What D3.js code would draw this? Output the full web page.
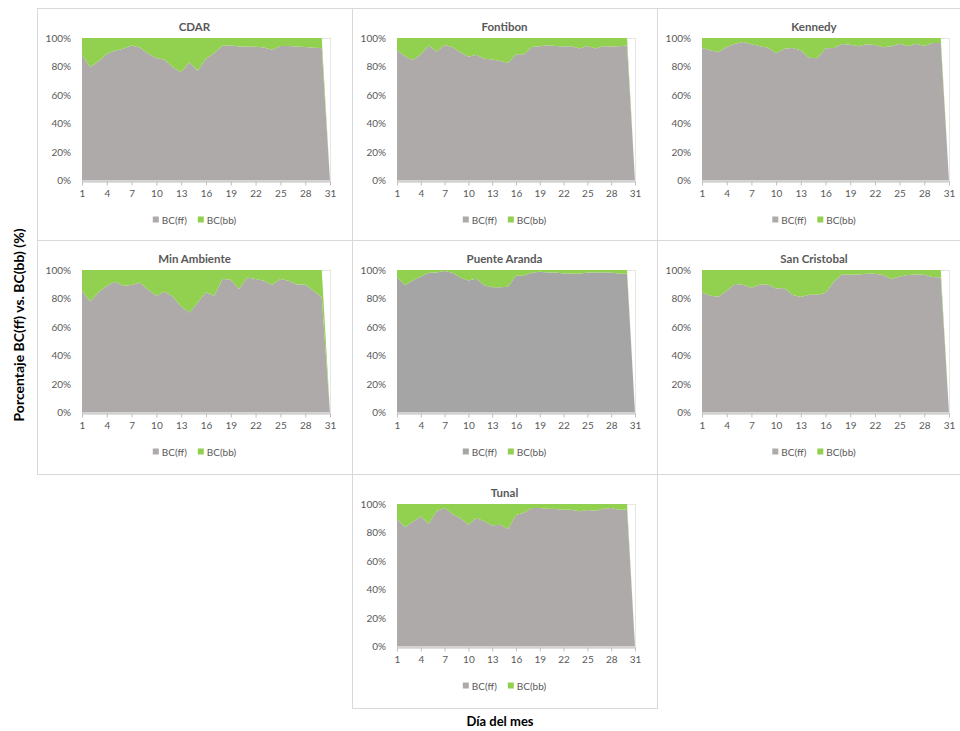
<!DOCTYPE html>
<html>
<head>
<meta charset="utf-8">
<script src="https://cdn.jsdelivr.net/npm/d3@7"></script>
<style>
  html, body { margin: 0; padding: 0; background: #fff; }
  svg { display: block; font-family: Lato, "Open Sans", sans-serif; }
</style>
</head>
<body>
<svg id="chart" width="960" height="731"></svg>
<script>
// Day of month (categories)
const days = [1,2,3,4,5,6,7,8,9,10,11,12,13,14,15,16,17,18,19,20,21,22,23,24,25,26,27,28,29,30,31];
const xTickValues = [1,4,7,10,13,16,19,22,25,28,31];
const yTickValues = [0, 0.2, 0.4, 0.6, 0.8, 1];
const seriesNames = ["BC(ff)", "BC(bb)"];
const stationNames = ["CDAR", "Fontibon", "Kennedy", "Min Ambiente", "Puente Aranda", "San Cristobal", "Tunal"];

// Daily share (%) of BC from fossil fuel (ff) and biomass burning (bb)
const ffCDAR = [88,79.4,83.6,89,91,92.5,94.8,93.4,89,86,84.8,79.4,75.9,82.9,77,85.5,89.5,94.6,94.8,94.1,94.1,93.9,93.4,91.8,94.4,94.4,94.1,93.7,93.2,93,0];
const bbCDAR = [12,20.6,16.4,11,9,7.5,5.2,6.6,11,14,15.2,20.6,24.1,17.1,23,14.5,10.5,5.4,5.2,5.9,5.9,6.1,6.6,8.2,5.6,5.6,5.9,6.3,6.8,7,0];

const ffFontibon = [91.4,87.2,84.5,88.4,94.7,90.3,95.1,93.5,90,86.8,88.2,85.4,84.9,83.8,82.4,88.6,88.6,93.7,94.2,94.9,94.4,94,94.2,92.6,94.4,92.6,94.2,94,94.2,94.7,0];
const bbFontibon = [8.6,12.8,15.5,11.6,5.3,9.7,4.9,6.5,10,13.2,11.8,14.6,15.1,16.2,17.6,11.4,11.4,6.3,5.8,5.1,5.6,6,5.8,7.4,5.6,7.4,5.8,6,5.8,5.3,0];

const ffKennedy = [93,91.4,90.2,93.7,96,97.2,95.6,94.4,93.2,89.3,92.5,93,91.4,86.2,85.8,92.8,93,95.8,95.3,94.2,95.6,95.1,93.5,94.2,96,94.2,96,94.4,96.5,96.5,0];
const bbKennedy = [7,8.6,9.8,6.3,4,2.8,4.4,5.6,6.8,10.7,7.5,7,8.6,13.8,14.2,7.2,7,4.2,4.7,5.8,4.4,4.9,6.5,5.8,4,5.8,4,5.6,3.5,3.5,0];

const ffMinAmbiente = [85.4,77.9,84.3,89,91.8,89,89.4,91.3,86.2,81.9,85,81.2,74.4,70.2,77.2,84.3,81.9,93.7,93.2,86.6,94.8,93.7,92.5,89.4,93.7,92.5,89.9,89.9,85.4,80.8,0];
const bbMinAmbiente = [14.6,22.1,15.7,11,8.2,11,10.6,8.7,13.8,18.1,15,18.8,25.6,29.8,22.8,15.7,18.1,6.3,6.8,13.4,5.2,6.3,7.5,10.6,6.3,7.5,10.1,10.1,14.6,19.2,0];

const ffPuenteAranda = [95,89.3,92.7,95.5,98.1,98.3,99.3,98.1,94.5,92.7,93.8,89.3,87.9,87.9,88.2,96,96.2,98.1,98.8,98.3,98.3,97.6,97.6,97.4,98.3,98.3,98.3,98.3,97.4,97.4,0];
const bbPuenteAranda = [5,10.7,7.3,4.5,1.9,1.7,0.7,1.9,5.5,7.3,6.2,10.7,12.1,12.1,11.8,4,3.8,1.9,1.2,1.7,1.7,2.4,2.4,2.6,1.7,1.7,1.7,1.7,2.6,2.6,0];

const ffSanCristobal = [84.3,81.9,81.2,85.4,90.1,89.7,87.6,89.7,89.9,87.1,87.3,82.4,81,82.6,82.6,83.8,91.8,96.9,96.7,96.9,97.4,97.4,96.5,93.7,95.5,96.5,96.9,96.7,95.1,94.8,0];
const bbSanCristobal = [15.7,18.1,18.8,14.6,9.9,10.3,12.4,10.3,10.1,12.9,12.7,17.6,19,17.4,17.4,16.2,8.2,3.1,3.3,3.1,2.6,2.6,3.5,6.3,4.5,3.5,3.1,3.3,4.9,5.2,0];

const ffTunal = [89.5,83.6,87.6,91.4,86,95.1,97.2,93,90,85.5,90.2,87.9,85,85.5,82.5,92.3,93.9,97.2,97.2,96.7,96.5,96,96,94.9,95.8,95.3,96.7,97.2,96,96,0];
const bbTunal = [10.5,16.4,12.4,8.6,14,4.9,2.8,7,10,14.5,9.8,12.1,15,14.5,17.5,7.7,6.1,2.8,2.8,3.3,3.5,4,4,5.1,4.2,4.7,3.3,2.8,4,4,0];

const ffByStation = [ffCDAR, ffFontibon, ffKennedy, ffMinAmbiente, ffPuenteAranda, ffSanCristobal, ffTunal];
const bbByStation = [bbCDAR, bbFontibon, bbKennedy, bbMinAmbiente, bbPuenteAranda, bbSanCristobal, bbTunal];

// ---- layout & style ----
const colX = [37, 352, 657];
const colW = [315, 305, 314];
const rowY = [8, 240, 474];
const rowH = [232, 234, 234];
const green = "#92d050";
const grayDefault = "#aeaaaa";
const grayAlt = "#a5a5a5";
const textGray = "#595959";
const lineGray = "#d9d9d9";

const svg = d3.select("#chart");

const stack = d3.stack().keys(["ff", "bb"]).offset(d3.stackOffsetExpand);

stationNames.forEach((name, i) => {
  const row = i < 6 ? Math.floor(i / 3) : 2;
  const col = i < 6 ? i % 3 : 1;
  const px = colX[col], py = rowY[row], pw = colW[col], ph = rowH[row];
  const gray = name === "Puente Aranda" ? grayAlt : grayDefault;

  const g = svg.append("g");

  // panel frame
  g.append("rect")
    .attr("x", px + 0.5).attr("y", py + 0.5)
    .attr("width", pw).attr("height", ph)
    .attr("fill", "#fff").attr("stroke", lineGray).attr("stroke-width", 1);

  const left = px + 45, right = px + pw - 22;
  const top = py + 30, bottom = py + 172.5;

  const x = d3.scaleLinear().domain([days[0], days[days.length - 1]]).range([left, right]);
  const y = d3.scaleLinear().domain([0, 1]).range([bottom, top]);

  // plot-area outline
  g.append("rect")
    .attr("x", Math.round(left) + 0.5).attr("y", Math.round(top) + 0.5)
    .attr("width", Math.round(right - left)).attr("height", Math.round(bottom - top))
    .attr("fill", "none").attr("stroke", "#e6e6e6");

  const rows = days.map((d, k) => ({ day: d, ff: ffByStation[i][k], bb: bbByStation[i][k] }));
  const layers = stack(rows);
  const colors = [gray, green];

  const area = d3.area()
    .x(d => x(d.data.day))
    .y0(d => y(d[0]))
    .y1(d => y(d[1]));

  g.selectAll("path.layer")
    .data(layers)
    .join("path")
    .attr("class", "layer")
    .attr("d", area)
    .attr("fill", (d, k) => colors[k]);

  // y axis (labels only)
  const yAxis = g.append("g")
    .attr("transform", `translate(${left},0)`)
    .call(d3.axisLeft(y).tickValues(yTickValues).tickFormat(d3.format(".0%")).tickSize(0).tickPadding(11));
  yAxis.select(".domain").remove();
  yAxis.selectAll("text").attr("fill", textGray).style("font-size", "10px").style("font-family", "Lato, sans-serif");

  // x axis
  const xAxis = g.append("g")
    .attr("transform", `translate(0,${Math.round(bottom) + 0.5})`)
    .call(d3.axisBottom(x).tickValues(xTickValues).tickFormat(d3.format("d")).tickSizeInner(4).tickSizeOuter(0).tickPadding(4));
  xAxis.select(".domain").attr("stroke", "#bfbfbf");
  xAxis.selectAll("line").attr("stroke", "#bfbfbf");
  xAxis.selectAll("text").attr("fill", textGray).style("font-size", "10px").style("font-family", "Lato, sans-serif");

  // title
  g.append("text")
    .attr("x", px + pw / 2).attr("y", py + 23)
    .attr("text-anchor", "middle")
    .attr("fill", textGray)
    .style("font-size", "11.5px").style("font-weight", "bold")
    .text(name);

  // legend
  const legend = g.append("g");
  const ly = py + 212;
  const items = legend.selectAll("g").data(seriesNames).join("g");
  let cursor = 0;
  items.each(function (s, k) {
    const it = d3.select(this);
    it.append("rect").attr("x", cursor).attr("y", ly - 3.5).attr("width", 6).attr("height", 6).attr("fill", colors[k]);
    const t = it.append("text").attr("x", cursor + 9).attr("y", ly + 3.5)
      .attr("fill", textGray).style("font-size", "10px").text(s);
    cursor += 9 + t.node().getComputedTextLength() + 11;
  });
  const lw = cursor - 11;
  legend.attr("transform", `translate(${px + pw / 2 - lw / 2},0)`);
});

// shared axis titles
svg.append("text")
  .attr("transform", "translate(24,325) rotate(-90)")
  .attr("text-anchor", "middle")
  .attr("fill", "#000")
  .style("font-size", "14px").style("font-weight", "bold")
  .text("Porcentaje BC(ff) vs. BC(bb) (%)");

svg.append("text")
  .attr("x", 500).attr("y", 726)
  .attr("text-anchor", "middle")
  .attr("fill", "#000")
  .style("font-size", "13px").style("font-weight", "bold")
  .text("Día del mes");
</script>
</body>
</html>
